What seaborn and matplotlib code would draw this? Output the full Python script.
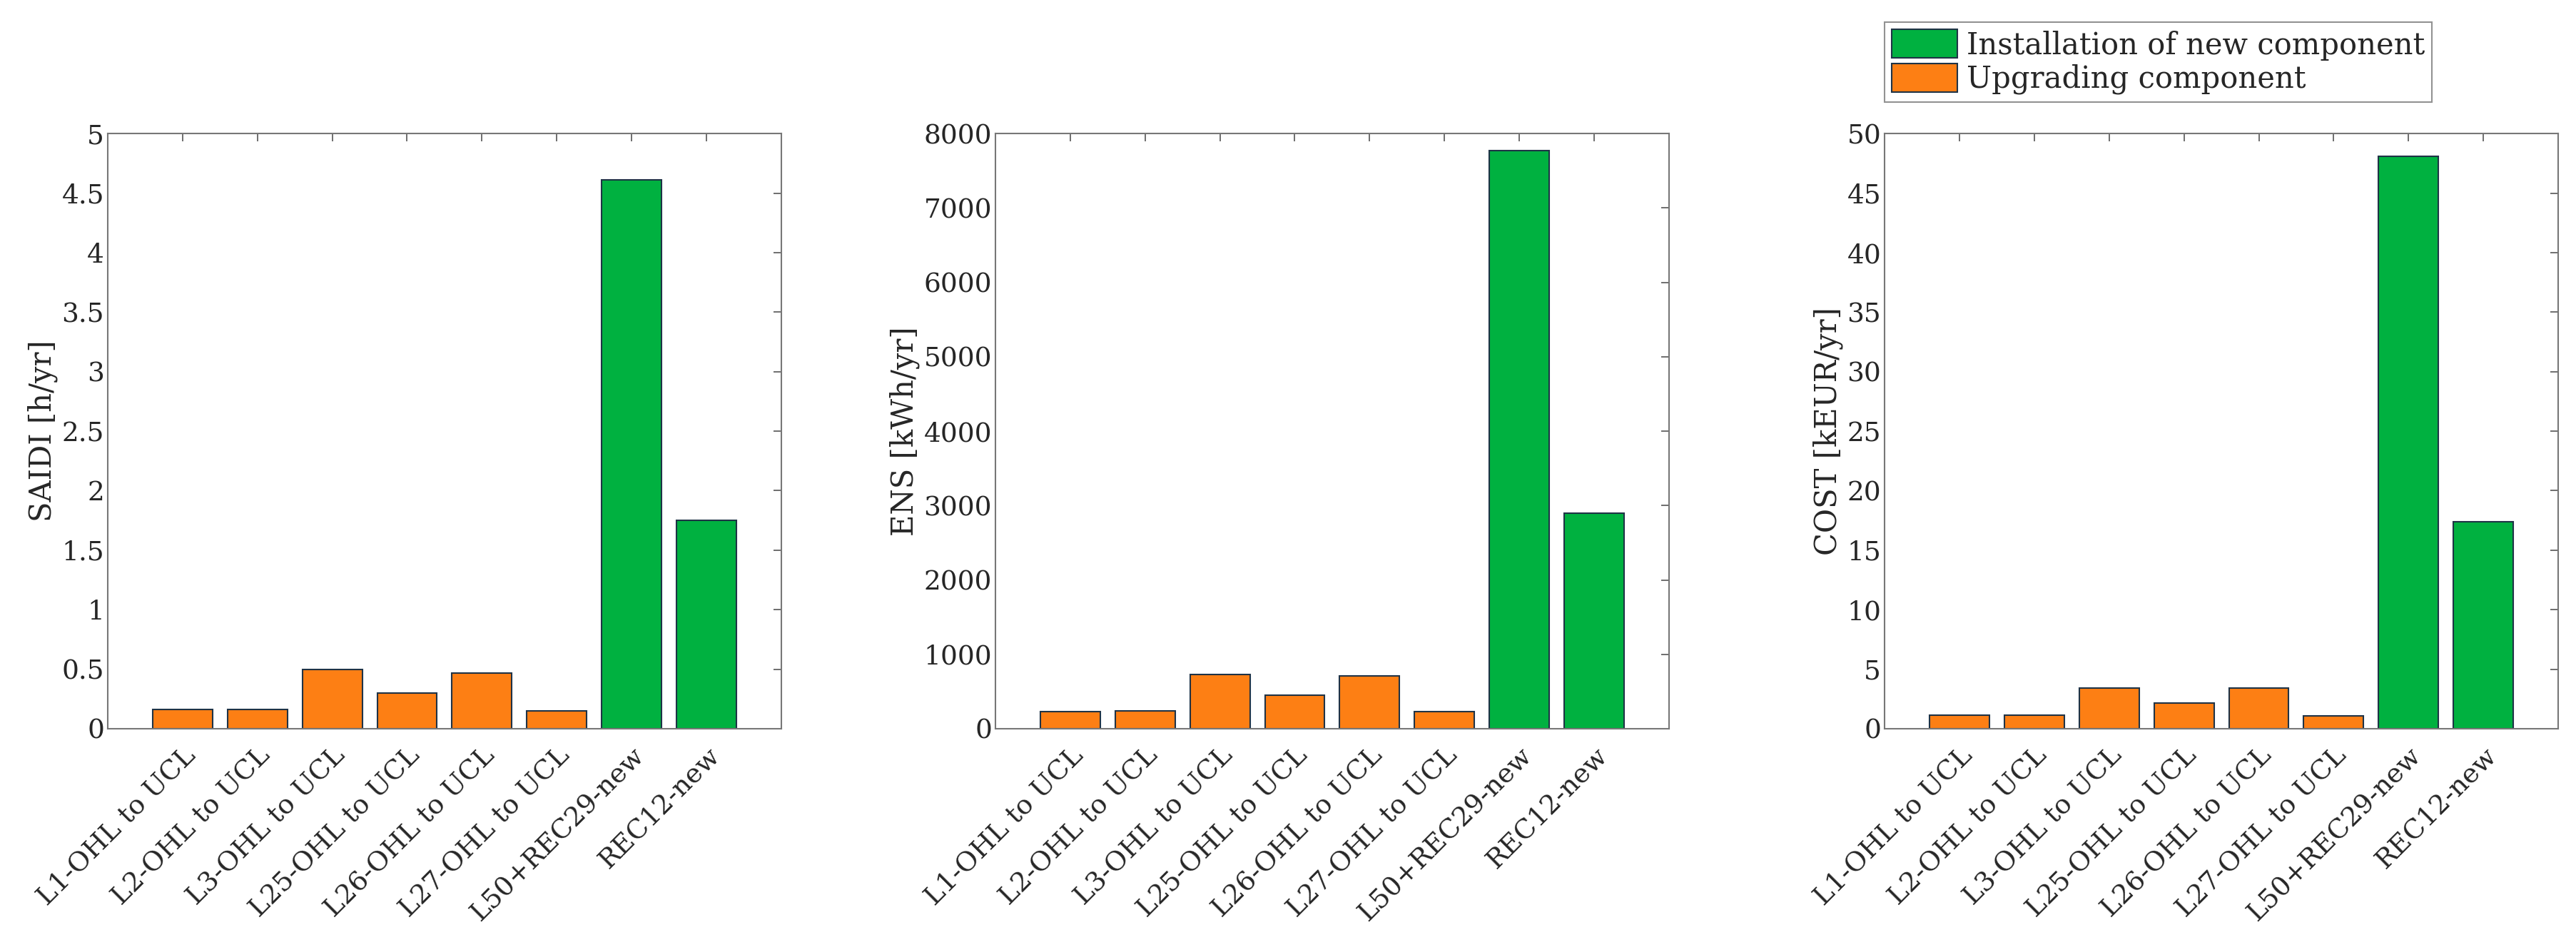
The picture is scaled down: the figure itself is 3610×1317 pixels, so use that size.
import pandas as pd
import matplotlib
matplotlib.use('Agg')
import matplotlib.pyplot as plt
from matplotlib.patches import Patch
import seaborn as sns

# Data
measures = ['L1-OHL to UCL', 'L2-OHL to UCL', 'L3-OHL to UCL', 'L25-OHL to UCL',
            'L26-OHL to UCL', 'L27-OHL to UCL', 'L50+REC29-new', 'REC12-new']
kinds = ['Upgrading component'] * 6 + ['Installation of new component'] * 2
saidi = [0.16, 0.16, 0.50, 0.30, 0.47, 0.15, 4.61, 1.75]
ens = [234, 242, 733, 451, 709, 226, 7768, 2901]
cost = [1.16, 1.16, 3.42, 2.17, 3.42, 1.10, 48.1, 17.4]

panels = [
    ('SAIDI [h/yr]', saidi, 5, [0, 0.5, 1, 1.5, 2, 2.5, 3, 3.5, 4, 4.5, 5],
     ['0', '0.5', '1', '1.5', '2', '2.5', '3', '3.5', '4', '4.5', '5']),
    ('ENS [kWh/yr]', ens, 8000, list(range(0, 8001, 1000)),
     [str(v) for v in range(0, 8001, 1000)]),
    ('COST [kEUR/yr]', cost, 50, list(range(0, 51, 5)),
     [str(v) for v in range(0, 51, 5)]),
]

green = '#00B140'
orange = '#FD7F14'
edge = '#1F3346'
palette = {'Installation of new component': green, 'Upgrading component': orange}

sns.set_style('white')
plt.rcParams['font.family'] = ['DejaVu Serif']
plt.rcParams['font.size'] = 27

fig = plt.figure(figsize=(36.1, 13.17), dpi=100)
lefts = [0.0418, 0.3864, 0.7316]
width = 0.2615
bottom = 0.2248
height = 0.633

for (label, vals, ymax, yticks, ylabels), left in zip(panels, lefts):
    ax = fig.add_axes([left, bottom, width, height])
    df = pd.DataFrame({'measure': measures, 'value': vals, 'kind': kinds})
    sns.barplot(data=df, x='measure', y='value', hue='kind', order=measures,
                palette=palette, saturation=1, dodge=False, width=0.8,
                edgecolor=edge, linewidth=1.5, legend=False, ax=ax)
    ax.set_xlim(-1, 8)
    ax.set_ylim(0, ymax)
    ax.set_yticks(yticks)
    ax.set_yticklabels(ylabels)
    ax.set_xlabel('')
    ax.set_ylabel(label, fontsize=30, labelpad=4)
    ax.set_xticks(range(len(measures)))
    ax.set_xticklabels(measures, rotation=45, ha='right', rotation_mode='anchor')
    ax.tick_params(axis='both', direction='in', length=8, width=1.2,
                   top=True, right=True, labelsize=27, colors='#262626',
                   color='#555555')
    ax.tick_params(axis='x', pad=14)
    for s in ax.spines.values():
        s.set_visible(True)
        s.set_color('#777777')
        s.set_linewidth(1.5)

handles = [Patch(facecolor=green, edgecolor=edge, linewidth=1.5),
           Patch(facecolor=orange, edgecolor=edge, linewidth=1.5)]
leg = fig.legend(handles, ['Installation of new component', 'Upgrading component'],
                 loc='upper left', bbox_to_anchor=(0.7316, 0.9765),
                 fontsize=30, frameon=True, fancybox=False, borderpad=0.25,
                 handlelength=2.2, handleheight=1.1, handletextpad=0.3,
                 labelspacing=0.1, borderaxespad=0)
leg.get_frame().set_edgecolor('#777777')
leg.get_frame().set_linewidth(1.5)

fig.savefig('out.png', dpi=100)
